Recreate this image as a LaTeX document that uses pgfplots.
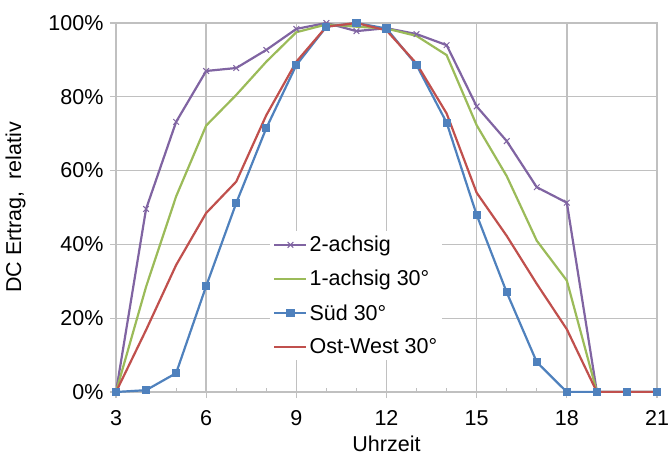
\documentclass[border=0pt]{standalone}
\usepackage{fontspec}
\setmainfont{Liberation Sans}
\usepackage{pgfplots}
\pgfplotsset{compat=1.18}
\definecolor{cpurple}{RGB}{128,100,162}
\definecolor{cgreen}{RGB}{155,187,89}
\definecolor{cblue}{RGB}{79,129,189}
\definecolor{cred}{RGB}{192,80,77}
\definecolor{cgrid}{RGB}{192,192,192}
\begin{document}
\begin{tikzpicture}
\begin{axis}[
  scale only axis, width=541bp, height=369bp,
  xmin=3, xmax=21, ymin=0, ymax=100,
  xtick={3,6,...,21},
  minor xtick={4,5,7,8,10,11,13,14,16,17,19,20},
  ytick={0,20,...,100},
  yticklabel={\pgfmathprintnumber{\tick}\%},
  /pgf/number format/assume math mode=true,
  grid=major,
  major grid style={cgrid, line width=1.4bp},
  axis line style={cgrid, line width=1.4bp},
  tick style={cgrid, line width=1.2bp},
  tick align=outside,
  major tick length=6bp, minor tick length=4bp,
  tick pos=bottom,
  minor x tick style={yshift=4bp},
  tick label style={font=\fontsize{21.5bp}{25bp}\selectfont},
  label style={font=\fontsize{21.5bp}{25bp}\selectfont},
  xticklabel style={yshift=-9bp},
  yticklabel style={xshift=-3bp},
  xlabel={Uhrzeit}, ylabel={DC Ertrag,\ \ relativ},
  xlabel style={yshift=-3bp},
  ylabel style={yshift=16bp},
  legend style={at={(0.285,0.436)}, anchor=north west, fill=white, draw=none,
    font=\fontsize{21.5bp}{25bp}\selectfont, row sep=13bp, inner sep=3bp,
    legend cell align=left},
  legend image code/.code={\draw[mark repeat=2,mark phase=2] plot coordinates {(0bp,0bp) (16bp,0bp) (32bp,0bp)};},
]
\addplot[cpurple, line width=2.2bp, mark=x, mark size=4bp, mark options={line width=1bp}] coordinates {
(3,0) (4,49.6) (5,73.2) (6,87) (7,87.8) (8,92.7) (9,98.4) (10,100) (11,97.8) (12,98.6) (13,97) (14,94) (15,77.4) (16,68) (17,55.5) (18,51.3) (19,0) (20,0) (21,0)};
\addlegendentry{2-achsig}
\addplot[cgreen, line width=2.2bp] coordinates {
(3,0) (4,28.5) (5,53) (6,72.2) (7,80.5) (8,89.5) (9,97.5) (10,99.6) (11,99) (12,98.5) (13,96.5) (14,91.3) (15,72.3) (16,58.5) (17,41) (18,30.2) (19,0) (20,0) (21,0)};
\addlegendentry{1-achsig 30°}
\addplot[cblue, line width=2.2bp, mark=square*, mark size=3bp] coordinates {
(3,0) (4,0.5) (5,5.1) (6,28.7) (7,51.2) (8,71.5) (9,88.6) (10,99) (11,100) (12,98.5) (13,88.6) (14,73) (15,48) (16,27) (17,8.1) (18,0) (19,0) (20,0) (21,0)};
\addlegendentry{Süd 30°}
\addplot[cred, line width=2.2bp] coordinates {
(3,0) (4,16.8) (5,34.4) (6,48.5) (7,57) (8,75) (9,89.5) (10,99) (11,100) (12,98) (13,89) (14,75.5) (15,54) (16,42.3) (17,29.3) (18,17) (19,0) (20,0) (21,0)};
\addlegendentry{Ost-West 30°}
\end{axis}
\pgfresetboundingbox
\path[use as bounding box] (-116bp,-65bp) rectangle (553bp,392bp);
\end{tikzpicture}
\end{document}
